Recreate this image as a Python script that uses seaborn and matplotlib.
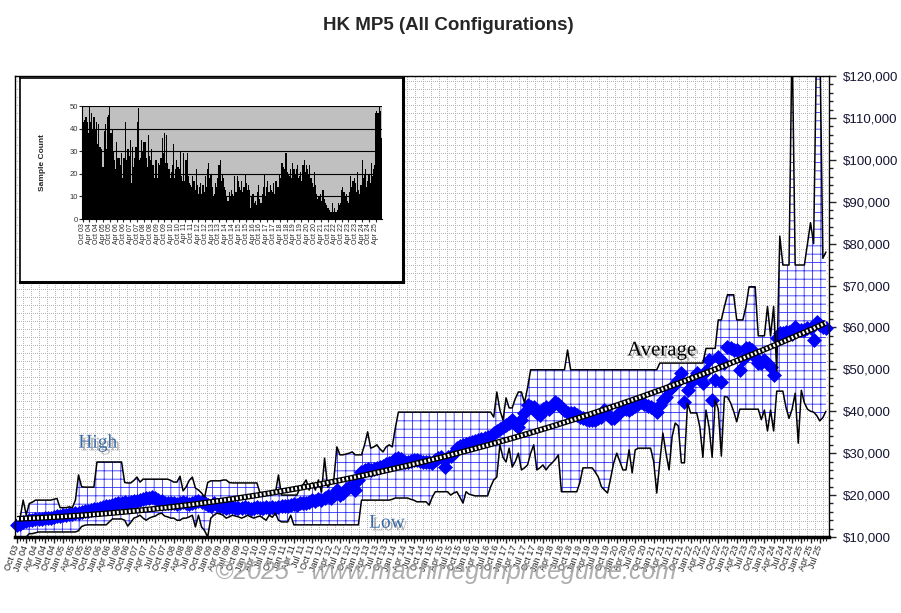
import numpy as np
import pandas as pd
import matplotlib
matplotlib.use("Agg")
import matplotlib.pyplot as plt
import matplotlib.patheffects as pe
import seaborn as sns

# monthly values, Oct 2003 .. Sep 2025, in $1000 (one row per calendar year)
high_k = [
    14.0, 14.5, 18.8,
    15.3, 18.0, 18.3, 18.8, 18.8, 18.8, 18.8, 18.8, 18.8, 19.0, 19.2, 17.0,
    17.0, 17.0, 17.2, 17.0, 18.8, 24.8, 22.0, 21.9, 21.9, 21.9, 21.9, 27.9,
    27.9, 27.9, 27.9, 27.9, 27.9, 27.9, 27.9, 27.9, 23.0, 22.9, 22.9, 23.5,
    24.3, 23.1, 23.8, 23.8, 23.8, 23.8, 23.8, 23.8, 23.8, 23.8, 23.8, 23.5,
    23.1, 23.1, 24.5, 21.0, 22.0, 23.5, 24.3, 21.7, 21.2, 20.5, 19.5, 23.0,
    23.4, 23.4, 23.4, 23.4, 23.6, 23.6, 23.0, 22.9, 22.9, 22.9, 22.9, 22.9,
    22.9, 22.9, 22.9, 22.9, 20.5, 20.5, 20.5, 20.5, 20.5, 20.5, 24.8, 20.0,
    20.0, 20.0, 20.0, 20.0, 20.0, 21.7, 22.5, 23.6, 21.2, 22.9, 21.2, 23.6,
    20.7, 28.8, 21.9, 22.9, 23.6, 31.5, 29.6, 29.6, 29.8, 30.0, 30.3, 29.6,
    29.6, 29.6, 32.0, 35.1, 31.2, 31.5, 32.0, 31.0, 30.3, 31.5, 32.0, 31.5,
    36.0, 39.8, 39.8, 39.8, 39.8, 39.8, 39.8, 39.8, 39.8, 39.8, 39.8, 39.8,
    39.8, 39.8, 39.8, 39.8, 39.8, 39.8, 39.8, 39.8, 39.8, 39.8, 39.8, 39.8,
    39.8, 39.8, 39.8, 39.8, 39.8, 39.8, 39.8, 39.8, 38.6, 44.6, 40.3, 37.9,
    43.2, 40.8, 40.8, 43.0, 44.6, 44.6, 42.0, 45.6, 49.9, 49.9, 49.9, 49.9,
    49.9, 49.9, 49.9, 49.9, 49.9, 49.9, 49.9, 49.9, 54.6, 49.9, 49.9, 49.9,
    49.9, 49.9, 49.9, 49.9, 49.9, 49.9, 49.9, 49.9, 49.9, 49.9, 49.9, 49.9,
    49.9, 49.9, 49.9, 49.9, 49.9, 49.9, 49.9, 49.9, 49.9, 49.9, 49.9, 49.9,
    49.9, 49.9, 51.5, 51.5, 51.5, 51.5, 51.5, 51.5, 51.5, 51.5, 51.5, 51.5,
    51.5, 51.5, 51.5, 51.5, 51.5, 55.0, 55.0, 55.0, 55.0, 61.8, 61.8, 65.0,
    67.8, 67.8, 67.8, 61.8, 61.8, 61.8, 65.0, 69.7, 69.7, 69.7, 58.0, 58.0,
    58.0, 65.0, 58.0, 65.0, 49.6, 81.8, 74.9, 74.9, 74.9, 130.0, 74.9, 74.9,
    74.9, 74.9, 80.0, 85.0, 80.0, 130.0, 130.0, 76.5, 78.0,
]

low_k = [
    10.0, 10.0, 10.0,
    10.0, 10.8, 10.8, 11.0, 11.2, 11.2, 11.2, 11.2, 11.2, 11.2, 11.2, 11.2,
    11.2, 11.2, 11.2, 11.2, 11.2, 11.5, 12.5, 12.8, 12.9, 12.9, 12.9, 12.9,
    12.9, 12.9, 12.9, 13.6, 14.3, 14.3, 14.3, 14.3, 14.0, 12.6, 13.5, 14.5,
    14.8, 15.2, 14.5, 14.0, 14.5, 14.8, 15.0, 15.5, 15.7, 15.0, 14.8, 14.5,
    14.5, 14.0, 14.0, 14.5, 14.5, 14.8, 15.2, 12.4, 15.2, 12.4, 11.5, 10.0,
    14.5, 15.2, 15.7, 15.5, 15.2, 14.5, 14.8, 15.2, 15.0, 14.8, 14.5, 14.8,
    15.2, 14.8, 14.5, 14.8, 15.0, 14.5, 14.0, 15.2, 14.7, 15.7, 14.0, 13.6,
    13.6, 13.6, 15.2, 12.9, 12.9, 12.9, 12.9, 12.9, 12.9, 12.9, 12.9, 12.9,
    12.9, 12.9, 12.9, 12.9, 12.9, 12.9, 12.9, 12.9, 12.9, 12.9, 12.9, 12.9,
    12.9, 18.8, 18.8, 18.8, 18.8, 18.8, 18.8, 18.8, 18.8, 18.8, 18.8, 19.0,
    19.3, 19.3, 19.3, 19.3, 19.3, 19.0, 18.8, 18.4, 18.4, 18.4, 18.4, 17.6,
    19.5, 20.8, 20.8, 20.8, 20.8, 20.8, 20.0, 20.5, 20.8, 19.5, 18.1, 20.8,
    20.2, 20.0, 19.8, 19.8, 19.8, 19.8, 19.8, 22.0, 23.6, 24.3, 32.0, 29.0,
    27.9, 31.2, 26.7, 28.0, 30.0, 26.0, 26.5, 27.2, 30.0, 32.0, 26.0, 26.5,
    27.2, 26.0, 27.0, 27.7, 28.5, 29.6, 20.8, 20.8, 20.8, 20.8, 20.8, 20.8,
    23.0, 26.5, 26.5, 26.5, 26.5, 25.5, 24.3, 22.0, 21.2, 20.5, 24.0, 27.7,
    30.0, 28.0, 26.0, 26.0, 30.8, 25.3, 30.8, 31.2, 31.2, 31.2, 31.2, 31.2,
    28.0, 20.5, 28.0, 34.8, 30.0, 26.0, 34.0, 37.2, 36.5, 27.7, 27.7, 42.0,
    39.6, 39.6, 39.6, 36.3, 29.0, 40.3, 36.3, 29.0, 42.7, 40.5, 29.3, 43.5,
    43.4, 42.0, 40.0, 37.5, 40.5, 40.5, 40.5, 40.5, 40.5, 40.5, 40.5, 38.0,
    40.3, 35.3, 40.3, 35.3, 44.8, 44.8, 44.8, 41.0, 38.3, 40.5, 44.3, 32.4,
    45.0, 42.0, 40.5, 40.0, 39.8, 39.0, 37.7, 38.5, 40.0,
]

avg_k = [
    12.8, 13.0, 13.5,
    13.8, 14.0, 14.0, 14.2, 14.3, 14.4, 14.5, 14.6, 14.6, 14.8, 15.0, 15.0,
    15.2, 15.3, 15.4, 15.5, 15.7, 15.8, 16.0, 16.1, 16.3, 16.5, 16.6, 16.8,
    17.0, 17.1, 17.3, 17.5, 17.6, 17.8, 18.0, 18.2, 18.3, 18.2, 18.4, 18.5,
    18.7, 18.8, 19.0, 19.2, 19.4, 19.6, 19.3, 18.8, 18.5, 18.2, 18.0, 18.2,
    18.0, 17.8, 18.0, 18.3, 18.0, 17.8, 18.1, 18.4, 18.6, 18.3, 18.0, 17.6,
    17.4, 18.0, 17.6, 17.4, 17.2, 17.0, 17.2, 17.1, 17.0, 16.9, 17.0, 17.1,
    17.0, 16.8, 17.0, 17.1, 16.9, 17.0, 17.1, 17.0, 17.2, 17.0, 17.1, 17.3,
    17.5, 17.4, 17.6, 17.8, 17.7, 18.0, 18.2, 18.0, 18.4, 18.8, 18.6, 19.0,
    18.8, 19.4, 19.8, 19.2, 20.0, 21.2, 20.0, 20.5, 21.5, 22.0, 22.0, 21.2,
    23.5, 25.5, 26.0, 26.2, 26.0, 26.3, 26.5, 26.7, 26.9, 27.3, 27.7, 28.0,
    28.5, 28.8, 28.5, 28.0, 28.0, 28.2, 28.4, 28.4, 28.2, 28.0, 27.9, 28.0,
    27.7, 28.4, 28.8, 29.1, 26.8, 29.0, 29.4, 30.0, 31.3, 31.8, 32.0, 32.3,
    32.4, 32.6, 33.0, 33.2, 33.5, 33.7, 33.9, 34.2, 34.8, 35.3, 35.8, 36.2,
    36.8, 37.3, 37.9, 37.0, 36.2, 38.0, 39.5, 41.5, 41.0, 41.0, 39.5, 39.1,
    40.5, 41.0, 40.5, 41.2, 42.2, 41.8, 41.0, 40.3, 39.6, 39.6, 39.6, 39.2,
    38.6, 38.5, 38.2, 37.9, 37.9, 37.9, 38.3, 38.6, 40.3, 39.1, 38.5, 38.3,
    39.0, 39.8, 40.5, 40.5, 40.3, 40.8, 41.3, 41.7, 42.2, 41.8, 41.3, 41.0,
    40.5, 39.9, 41.5, 42.7, 43.5, 45.1, 45.8, 46.5, 47.5, 49.1, 42.2, 45.0,
    47.0, 48.0, 49.1, 47.8, 46.7, 49.5, 52.2, 42.7, 47.5, 53.0, 47.0, 51.5,
    55.3, 55.0, 54.6, 54.6, 49.9, 52.5, 55.1, 55.0, 54.6, 53.0, 51.5, 51.5,
    52.2, 51.5, 50.5, 48.7, 57.5, 58.7, 58.7, 59.0, 59.0, 58.5, 60.1, 59.5,
    59.4, 59.5, 59.9, 59.9, 57.0, 61.3, 60.5, 60.1, 59.9,
]

sample_count = [
    45, 43, 44,
    45, 43, 38, 50, 43, 47, 40, 45, 40, 43, 33, 42,
    32, 32, 31, 23, 39, 42, 31, 45, 46, 50, 38, 40,
    30, 26, 22, 34, 27, 27, 24, 29, 18, 27, 27, 43,
    26, 31, 28, 35, 16, 32, 23, 27, 32, 43, 49, 26,
    27, 35, 30, 34, 34, 27, 23, 37, 28, 26, 31, 24,
    18, 26, 26, 18, 25, 24, 27, 36, 29, 38, 25, 37,
    25, 22, 18, 21, 24, 33, 18, 22, 26, 23, 22, 30,
    19, 17, 29, 17, 26, 29, 19, 16, 15, 14, 19, 17,
    13, 22, 15, 11, 14, 16, 11, 15, 12, 19, 14, 22,
    25, 18, 20, 14, 10, 11, 16, 14, 18, 24, 26, 17,
    20, 18, 14, 13, 10, 8, 12, 10, 13, 11, 10, 19,
    12, 19, 17, 14, 13, 17, 12, 14, 20, 16, 13, 15,
    13, 5, 10, 11, 7, 8, 6, 12, 15, 9, 7, 11,
    14, 20, 10, 14, 17, 12, 15, 13, 12, 16, 11, 17,
    17, 14, 20, 18, 25, 25, 23, 22, 29, 21, 20, 19,
    22, 18, 25, 22, 20, 22, 24, 18, 19, 21, 17, 24,
    26, 21, 24, 22, 20, 24, 18, 16, 14, 21, 15, 11,
    9, 10, 11, 8, 13, 13, 9, 7, 6, 5, 4, 3,
    3, 7, 3, 5, 3, 4, 7, 6, 7, 13, 14, 12,
    10, 11, 8, 7, 12, 19, 14, 17, 18, 16, 12, 21,
    13, 11, 15, 26, 18, 20, 22, 14, 17, 20, 16, 25,
    19, 22, 24, 47, 48, 47, 50, 48, 36,
]

months = pd.date_range("2003-10-01", periods=len(avg_k), freq="MS")
month_labels = list(months.strftime("%b %y"))
month_index = list(range(len(avg_k)))
y_ticks = list(range(10000, 120001, 10000))

df = pd.DataFrame({
    "m": month_index,
    "high": np.array(high_k) * 1000,
    "low": np.array(low_k) * 1000,
    "avg": np.array(avg_k) * 1000,
    "count": sample_count,
})

sns.set_style("white")
plt.rcParams["font.family"] = ["Liberation Sans", "DejaVu Sans"]
plt.rcParams["hatch.linewidth"] = 0.6

fig = plt.figure(figsize=(9.01, 6.13), dpi=100)
ax = fig.add_axes([15 / 901, (613 - 537) / 613, 814 / 901, 461 / 613])

# dotted pattern fill of the plot area (8 px cells)
gx = np.arange(8 / 814, 1, 8 / 814)
gy = np.arange(8 / 461, 1, 8 / 461)
ax.vlines(gx, 0, 1, transform=ax.transAxes, colors="#b8b8b8", lw=0.72,
          linestyles=(0, (1, 2)), antialiaseds=False, zorder=0)
ax.hlines(gy, 0, 1, transform=ax.transAxes, colors="#b8b8b8", lw=0.72,
          linestyles=(0, (1, 2)), antialiaseds=False, zorder=0)

# high-low band: white with a blue grid pattern
ax.fill_between(df["m"], df["low"], df["high"], facecolor="white", edgecolor="#3030ff",
                hatch="++", lw=0, zorder=1)

sns.scatterplot(data=df, x="m", y="avg", marker="D", s=58, color="#0000ff",
                linewidth=0, ax=ax, zorder=2.5, clip_on=False)
sns.lineplot(data=df, x="m", y="high", color="black", lw=1.1, estimator=None, ax=ax, zorder=3)
sns.lineplot(data=df, x="m", y="low", color="black", lw=1.1, estimator=None, ax=ax, zorder=3)

# trend line
coef = np.polyfit(df["m"], df["avg"], 2)
trend = np.polyval(coef, df["m"])
ax.plot(df["m"], trend, color="black", lw=4.2, zorder=4, solid_capstyle="butt")
ax.plot(df["m"], trend, color="white", lw=2.4, ls=(0, (0.6, 0.6)), zorder=4.1)

shadow = [pe.withSimplePatchShadow(offset=(2, -2), shadow_rgbFace="#888888", alpha=0.6)]
ax.text(26.3, 32400, "High", family="Liberation Serif", fontsize=14, color="#3a6aa5",
        ha="center", va="center", zorder=6, path_effects=shadow)
ax.text(120.3, 13300, "Low", family="Liberation Serif", fontsize=14, color="#3a6aa5",
        ha="center", va="center", zorder=6, path_effects=shadow)
ax.text(209.7, 54400, "Average", family="Liberation Serif", fontsize=15, color="black",
        ha="center", va="center", zorder=6, path_effects=shadow)

ax.set_xlim(-0.65, 264)
ax.set_ylim(10000, 120000)
ax.set_xlabel("")
ax.set_ylabel("")

ax.yaxis.tick_right()
ax.set_yticks(y_ticks)
ax.set_yticklabels([f"${v:,}" for v in y_ticks])
ax.set_yticks(np.arange(10000, 120001, 2000), minor=True)
ax.tick_params(axis="y", which="major", length=5, width=1, direction="out",
               labelsize=9.5, labelcolor="#141432", right=True, left=False, pad=5)
ax.tick_params(axis="y", which="minor", length=3, width=1, direction="out",
               right=True, left=False)

ax.set_xticks(month_index[::3])
ax.set_xticklabels(month_labels[::3], rotation=70, ha="right", va="center",
                   rotation_mode="anchor")
ax.set_xticks(month_index, minor=True)
ax.tick_params(axis="x", which="major", length=4, width=1, direction="out",
               labelsize=6.5, pad=2, bottom=True)
ax.tick_params(axis="x", which="minor", length=3, width=0.8, direction="out", bottom=True)

for s in ax.spines.values():
    s.set_color("black")
    s.set_linewidth(1.0)
ax.spines["bottom"].set_linewidth(2.5)

fig.text(0.498, 1 - 25 / 613, "HK MP5 (All Configurations)", ha="center", va="center",
         fontsize=13.5, fontweight="bold")

# inset: sample count per month
box = fig.add_axes([20 / 901, (613 - 282) / 613, 383 / 901, 204 / 613])
box.set_facecolor("white")
box.set_xticks([])
box.set_yticks([])
for s in box.spines.values():
    s.set_color("black")
    s.set_linewidth(1.2)
box.spines["right"].set_linewidth(2.2)
box.spines["bottom"].set_linewidth(2.2)

inax = fig.add_axes([82 / 901, (613 - 219) / 613, 300 / 901, 113 / 613])
inax.set_facecolor("#c0c0c0")
sns.barplot(x=month_index, y=sample_count, color="black", width=1.0, native_scale=True,
            saturation=1, linewidth=0, errorbar=None, ax=inax)
inax.set_xlim(-0.5, len(sample_count) - 0.5)
inax.set_ylim(0, 50)
inax.set_yticks([0, 10, 20, 30, 40, 50])
inax.set_xticks(month_index[::6])
inax.set_xticklabels(month_labels[::6], rotation=90)
inax.tick_params(axis="x", labelsize=5, length=2, pad=1, bottom=True)
inax.tick_params(axis="y", labelsize=5.5, length=2, pad=1, left=True, labelcolor="#333333")
inax.yaxis.grid(True, color="black", lw=0.8)
inax.set_axisbelow(True)
inax.set_xlabel("")
inax.set_ylabel("Sample Count", fontsize=6, fontweight="bold")
inax.yaxis.set_label_coords(-0.12, 0.5)
for side in ["top", "right"]:
    inax.spines[side].set_visible(False)
inax.spines["left"].set_color("black")
inax.spines["bottom"].set_color("black")
inax.spines["left"].set_linewidth(0.8)
inax.spines["bottom"].set_linewidth(0.8)

fig.text(0.495, 1 - 572 / 613, "\u00a92025 - www.machinegunpriceguide.com", ha="center",
         va="center", fontsize=18, style="italic", color="#a0a0a0", alpha=0.85, zorder=10)

fig.savefig("out.png", dpi=100)
plt.close(fig)
